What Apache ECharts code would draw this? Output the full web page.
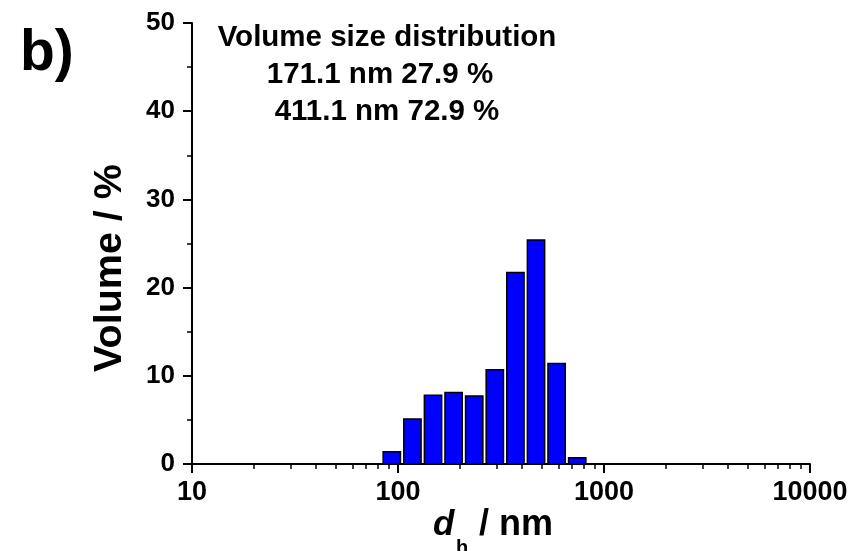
<!DOCTYPE html>
<html>
<head>
<meta charset="utf-8">
<script src="https://cdn.jsdelivr.net/npm/echarts@6/dist/echarts.min.js"></script>
<style>html,body{margin:0;padding:0;background:#fff}#c{width:854px;height:551px}</style>
</head>
<body>
<div id="c"></div>
<script>
// ---- data ----
const binCenters = [93.3, 117.5, 147.9, 186.2, 234.4, 295.1, 371.5, 467.7, 588.8, 741.3]; // nm
const volumePct  = [1.4, 5.1, 7.8, 8.1, 7.7, 10.7, 21.7, 25.4, 11.4, 0.7];               // %
const xTickValues = [10, 100, 1000, 10000];
const xTickLabels = ['10', '100', '1000', '10000'];
const xMinorTicks = [20, 30, 40, 50, 60, 70, 80, 90, 200, 300, 400, 500, 600, 700, 800, 900,
                     2000, 3000, 4000, 5000, 6000, 7000, 8000, 9000];
const yTickLabels = ['0', '10', '20', '30', '40', '50'];
const titleLines = ['Volume size distribution', '171.1 nm 27.9 %', '411.1 nm 72.9 %'];
const panelLabel = 'b)';
const yName = 'Volume / %';

const FONT = "'Liberation Sans', Arial, Helvetica, sans-serif";
const HALF_BAR_DECADE = 0.042;

const chart = echarts.init(document.getElementById('c'), null, {renderer: 'canvas'});

function xLabel(v) {
  let best = 0, bd = Infinity;
  xTickValues.forEach((t, i) => { const d = Math.abs(Math.log10(v) - Math.log10(t)); if (d < bd) { bd = d; best = i; } });
  return xTickLabels[best];
}

const option = {
  backgroundColor: '#fff',
  animation: false,
  grid: {left: 192, right: 44, top: 23, bottom: 87, outerBoundsMode: 'none', containLabel: false},
  xAxis: [{
    type: 'log', logBase: 10, min: 10, max: 10000, position: 'bottom',
    axisLine: {show: true, lineStyle: {color: '#000', width: 2}},
    axisTick: {show: true, inside: false, length: 9, customValues: xTickValues, lineStyle: {color: '#000', width: 2}},
    axisLabel: {show: true, margin: 15, customValues: xTickValues, formatter: xLabel,
      color: '#000', fontFamily: FONT, fontWeight: 'bold', fontSize: 27},
    splitLine: {show: false}
  }, {
    type: 'log', logBase: 10, min: 10, max: 10000, position: 'bottom',
    axisLine: {show: false},
    axisTick: {show: true, inside: false, length: 5, customValues: xMinorTicks, lineStyle: {color: '#000', width: 1.5}},
    axisLabel: {show: false},
    splitLine: {show: false}
  }],
  yAxis: {
    type: 'value', min: 0, max: 50, interval: 10,
    axisLine: {show: true, lineStyle: {color: '#000', width: 2}},
    axisTick: {show: true, inside: false, length: 9, lineStyle: {color: '#000', width: 2}},
    minorTick: {show: true, splitNumber: 2, length: 5, lineStyle: {color: '#000', width: 1.5}},
    axisLabel: {margin: 17, color: '#000', fontFamily: FONT, fontWeight: 'bold', fontSize: 26,
      formatter: (v) => yTickLabels[Math.round(v / 10)]},
    splitLine: {show: false}
  },
  series: [{
    type: 'custom',
    xAxisIndex: 0, yAxisIndex: 0,
    data: binCenters.map((c, i) => [c, volumePct[i]]),
    encode: {x: 0, y: 1},
    renderItem: function (params, api) {
      const c = api.value(0), v = api.value(1);
      const f = Math.pow(10, HALF_BAR_DECADE);
      const p0 = api.coord([c / f, v]);
      const p1 = api.coord([c * f, 0]);
      return {
        type: 'rect',
        shape: {x: p0[0], y: p0[1], width: p1[0] - p0[0], height: p1[1] - p0[1]},
        style: {fill: '#0000ff', stroke: '#000', lineWidth: 1.5}
      };
    },
    z: 1
  }],
  graphic: [
    {type: 'text', left: 20, top: 26, style: {text: panelLabel, fill: '#000', font: "bold 57px " + FONT}},
    {type: 'text', x: 387, y: 38, style: {text: titleLines[0], fill: '#000', font: "bold 29.5px " + FONT, align: 'center', verticalAlign: 'middle'}},
    {type: 'text', x: 380, y: 75, style: {text: titleLines[1], fill: '#000', font: "bold 29.5px " + FONT, align: 'center', verticalAlign: 'middle'}},
    {type: 'text', x: 387, y: 112, style: {text: titleLines[2], fill: '#000', font: "bold 29.5px " + FONT, align: 'center', verticalAlign: 'middle'}},
    {type: 'text', x: 110, y: 268, rotation: Math.PI / 2, style: {text: yName, fill: '#000', font: "bold 39.5px " + FONT, align: 'center', verticalAlign: 'middle'}},
    {type: 'text', x: 433, y: 525, style: {text: 'd', fill: '#000', font: "italic bold 35px " + FONT, align: 'left', verticalAlign: 'middle'}},
    {type: 'text', x: 456, y: 548, style: {text: 'h', fill: '#000', font: "bold 20px " + FONT, align: 'left', verticalAlign: 'middle'}},
    {type: 'text', x: 479, y: 525, style: {text: '/ nm', fill: '#000', font: "bold 36px " + FONT, align: 'left', verticalAlign: 'middle'}}
  ]
};
chart.setOption(option);
</script>
</body>
</html>
